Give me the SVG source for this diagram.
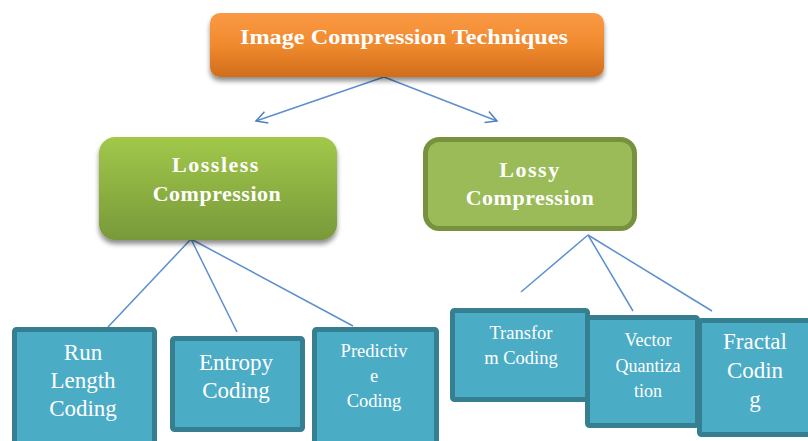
<svg xmlns="http://www.w3.org/2000/svg" width="808" height="441" viewBox="0 0 808 441">
<defs>
<linearGradient id="gOrange" x1="0" y1="0" x2="0" y2="1">
<stop offset="0" stop-color="#fa9a45"/>
<stop offset="0.5" stop-color="#f08a2e"/>
<stop offset="1" stop-color="#d16d1c"/>
</linearGradient>
<linearGradient id="gGreen" x1="0" y1="0" x2="0" y2="1">
<stop offset="0" stop-color="#a2c84a"/>
<stop offset="1" stop-color="#78993a"/>
</linearGradient>
<filter id="shadow" x="-10%" y="-10%" width="120%" height="140%">
<feGaussianBlur in="SourceAlpha" stdDeviation="2.5"/>
<feOffset dx="0" dy="4"/>
<feComponentTransfer><feFuncA type="linear" slope="0.45"/></feComponentTransfer>
<feMerge><feMergeNode/><feMergeNode in="SourceGraphic"/></feMerge>
</filter>
<marker id="arr" markerWidth="14" markerHeight="14" refX="12" refY="7" orient="auto" markerUnits="userSpaceOnUse">
<path d="M1,1 L12,7 L1,13" fill="none" stroke="#4f81bd" stroke-width="1.5"/>
</marker>
</defs>
<style>
.hd{font-family:'Liberation Serif','DejaVu Serif','Times New Roman',serif;font-weight:bold;fill:#ffffff;text-anchor:middle}
.bx{font-family:'Liberation Serif','DejaVu Serif','Times New Roman',serif;fill:#ffffff;text-anchor:middle}
.teal{fill:#4bacc6;stroke:#357f91;stroke-width:5}
.ln{stroke:#5b8fcf;stroke-width:1.5;fill:none}
</style>
<rect width="808" height="441" fill="#ffffff"/>
<g id="connectors">
<line class="ln" x1="384" y1="77" x2="256" y2="121" marker-end="url(#arr)"/>
<line class="ln" x1="384" y1="77" x2="497" y2="121" marker-end="url(#arr)"/>
<line class="ln" x1="191" y1="239" x2="108" y2="327"/>
<line class="ln" x1="191" y1="239" x2="237" y2="332"/>
<line class="ln" x1="191" y1="239" x2="353" y2="326"/>
<line class="ln" x1="588" y1="235" x2="521" y2="292"/>
<line class="ln" x1="588" y1="235" x2="633" y2="311"/>
<line class="ln" x1="588" y1="235" x2="712" y2="311"/>
</g>
<g id="root">
<rect x="210" y="13" width="394" height="64" rx="10" fill="url(#gOrange)" filter="url(#shadow)"/>
<text class="hd" x="404" y="44" font-size="20" textLength="328" lengthAdjust="spacingAndGlyphs">Image Compression Techniques</text>
</g>
<g id="lossless">
<rect x="99" y="137" width="238" height="103" rx="16" fill="url(#gGreen)" filter="url(#shadow)"/>
<text class="hd" x="216" y="172" font-size="22" letter-spacing="1.5">Lossless</text>
<text class="hd" x="217" y="201" font-size="22" letter-spacing="0.5">Compression</text>
</g>
<g id="lossy">
<rect x="425.5" y="139.5" width="209" height="89" rx="14" fill="#9bbb59" stroke="#76923c" stroke-width="5"/>
<text class="hd" x="530" y="177" font-size="22" letter-spacing="1.5">Lossy</text>
<text class="hd" x="530" y="205" font-size="22" letter-spacing="0.5">Compression</text>
</g>
<g id="runlength">
<rect class="teal" x="14.5" y="329.5" width="140" height="120" rx="2"/>
<text class="bx" x="83" y="360" font-size="23">Run</text>
<text class="bx" x="83" y="388" font-size="23">Length</text>
<text class="bx" x="83" y="416" font-size="23">Coding</text>
</g>
<g id="entropy">
<rect class="teal" x="172.5" y="338.5" width="130" height="91" rx="2"/>
<text class="bx" x="236" y="370" font-size="23">Entropy</text>
<text class="bx" x="236" y="398" font-size="23">Coding</text>
</g>
<g id="predictive">
<rect class="teal" x="314.5" y="329.5" width="122" height="120" rx="2"/>
<text class="bx" x="374" y="357" font-size="18.5">Predictiv</text>
<text class="bx" x="374" y="382" font-size="18.5">e</text>
<text class="bx" x="374" y="407" font-size="18.5">Coding</text>
</g>
<g id="transform">
<rect class="teal" x="452.5" y="310.5" width="135" height="89" rx="2"/>
<text class="bx" x="521" y="339" font-size="18.5">Transfor</text>
<text class="bx" x="521" y="364" font-size="18.5">m Coding</text>
</g>
<g id="vector">
<rect class="teal" x="587.5" y="317.5" width="110" height="108" rx="2"/>
<text class="bx" x="648" y="346" font-size="18">Vector</text>
<text class="bx" x="648" y="372" font-size="18">Quantiza</text>
<text class="bx" x="648" y="397" font-size="18">tion</text>
</g>
<g id="fractal">
<rect class="teal" x="699.5" y="320.5" width="120" height="114" rx="2"/>
<text class="bx" x="755" y="349" font-size="23">Fractal</text>
<text class="bx" x="755" y="378" font-size="23">Codin</text>
<text class="bx" x="755" y="407" font-size="23">g</text>
</g>
</svg>
